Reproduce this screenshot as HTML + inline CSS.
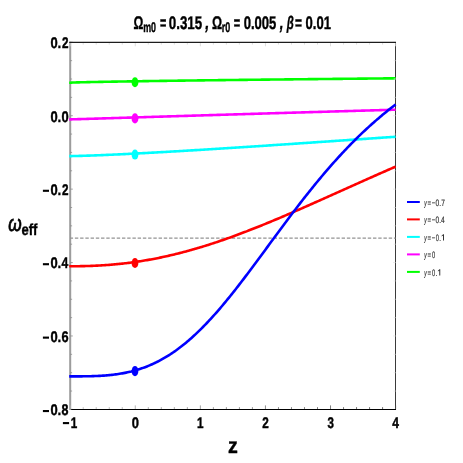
<!DOCTYPE html>
<html><head><meta charset="utf-8"><title>plot</title>
<style>
html,body{margin:0;padding:0;background:#fff;}
body{width:463px;height:463px;overflow:hidden;}
svg{display:block;will-change:transform;}
text{font-family:"Liberation Sans",sans-serif;text-rendering:geometricPrecision;}
</style></head><body>
<svg width="463" height="463" viewBox="0 0 463 463">
<rect x="0" y="0" width="463" height="463" fill="#ffffff"/>
<line x1="70.20" y1="41.65" x2="70.20" y2="410.00" stroke="#9c9c9c" stroke-width="2"/>
<line x1="395.50" y1="42.30" x2="395.50" y2="409.40" stroke="#3a3a3a" stroke-width="1.0"/>
<line x1="70.20" y1="238.09" x2="395.60" y2="238.09" stroke="#939393" stroke-width="1.1" stroke-dasharray="3.4 1.83" stroke-dashoffset="0.53"/>
<g fill="none" stroke-width="2.6" stroke-linecap="butt" stroke-linejoin="round">
<path d="M69.20 82.68 L70.20 82.68 L71.50 82.60 L72.80 82.55 L74.10 82.50 L75.41 82.46 L76.71 82.42 L78.01 82.38 L79.31 82.34 L80.61 82.31 L81.91 82.28 L83.22 82.25 L84.52 82.21 L85.82 82.18 L87.12 82.15 L88.42 82.12 L89.72 82.10 L91.03 82.07 L92.33 82.04 L93.63 82.01 L94.93 81.99 L96.23 81.96 L97.53 81.93 L98.84 81.91 L100.14 81.88 L101.44 81.86 L102.74 81.83 L104.04 81.81 L105.34 81.79 L106.64 81.76 L107.95 81.74 L109.25 81.72 L110.55 81.69 L111.85 81.67 L113.15 81.65 L114.45 81.62 L115.76 81.60 L117.06 81.58 L118.36 81.56 L119.66 81.54 L120.96 81.51 L122.26 81.49 L123.57 81.47 L124.87 81.45 L126.17 81.43 L127.47 81.41 L128.77 81.39 L130.07 81.37 L131.38 81.35 L132.68 81.33 L133.98 81.31 L135.28 81.29 L136.58 81.27 L137.88 81.25 L139.18 81.23 L140.49 81.21 L141.79 81.19 L143.09 81.17 L144.39 81.15 L145.69 81.13 L146.99 81.11 L148.30 81.09 L149.60 81.07 L150.90 81.05 L152.20 81.03 L153.50 81.01 L154.80 81.00 L156.11 80.98 L157.41 80.96 L158.71 80.94 L160.01 80.92 L161.31 80.90 L162.61 80.89 L163.92 80.87 L165.22 80.85 L166.52 80.83 L167.82 80.81 L169.12 80.80 L170.42 80.78 L171.72 80.76 L173.03 80.74 L174.33 80.73 L175.63 80.71 L176.93 80.69 L178.23 80.67 L179.53 80.66 L180.84 80.64 L182.14 80.62 L183.44 80.61 L184.74 80.59 L186.04 80.57 L187.34 80.56 L188.65 80.54 L189.95 80.52 L191.25 80.50 L192.55 80.49 L193.85 80.47 L195.15 80.46 L196.46 80.44 L197.76 80.42 L199.06 80.41 L200.36 80.39 L201.66 80.37 L202.96 80.36 L204.26 80.34 L205.57 80.32 L206.87 80.31 L208.17 80.29 L209.47 80.28 L210.77 80.26 L212.07 80.24 L213.38 80.23 L214.68 80.21 L215.98 80.20 L217.28 80.18 L218.58 80.17 L219.88 80.15 L221.19 80.13 L222.49 80.12 L223.79 80.10 L225.09 80.09 L226.39 80.07 L227.69 80.06 L229.00 80.04 L230.30 80.03 L231.60 80.01 L232.90 80.00 L234.20 79.98 L235.50 79.97 L236.80 79.95 L238.11 79.94 L239.41 79.92 L240.71 79.91 L242.01 79.89 L243.31 79.88 L244.61 79.86 L245.92 79.85 L247.22 79.83 L248.52 79.82 L249.82 79.80 L251.12 79.79 L252.42 79.77 L253.73 79.76 L255.03 79.74 L256.33 79.73 L257.63 79.71 L258.93 79.70 L260.23 79.68 L261.54 79.67 L262.84 79.66 L264.14 79.64 L265.44 79.63 L266.74 79.61 L268.04 79.60 L269.34 79.58 L270.65 79.57 L271.95 79.56 L273.25 79.54 L274.55 79.53 L275.85 79.51 L277.15 79.50 L278.46 79.49 L279.76 79.47 L281.06 79.46 L282.36 79.44 L283.66 79.43 L284.96 79.42 L286.27 79.40 L287.57 79.39 L288.87 79.37 L290.17 79.36 L291.47 79.35 L292.77 79.33 L294.08 79.32 L295.38 79.30 L296.68 79.29 L297.98 79.28 L299.28 79.26 L300.58 79.25 L301.88 79.24 L303.19 79.22 L304.49 79.21 L305.79 79.20 L307.09 79.18 L308.39 79.17 L309.69 79.16 L311.00 79.14 L312.30 79.13 L313.60 79.12 L314.90 79.10 L316.20 79.09 L317.50 79.08 L318.81 79.06 L320.11 79.05 L321.41 79.04 L322.71 79.02 L324.01 79.01 L325.31 79.00 L326.62 78.98 L327.92 78.97 L329.22 78.96 L330.52 78.94 L331.82 78.93 L333.12 78.92 L334.42 78.90 L335.73 78.89 L337.03 78.88 L338.33 78.87 L339.63 78.85 L340.93 78.84 L342.23 78.83 L343.54 78.81 L344.84 78.80 L346.14 78.79 L347.44 78.78 L348.74 78.76 L350.04 78.75 L351.35 78.74 L352.65 78.72 L353.95 78.71 L355.25 78.70 L356.55 78.69 L357.85 78.67 L359.16 78.66 L360.46 78.65 L361.76 78.64 L363.06 78.62 L364.36 78.61 L365.66 78.60 L366.96 78.59 L368.27 78.57 L369.57 78.56 L370.87 78.55 L372.17 78.54 L373.47 78.52 L374.77 78.51 L376.08 78.50 L377.38 78.49 L378.68 78.47 L379.98 78.46 L381.28 78.45 L382.58 78.44 L383.89 78.42 L385.19 78.41 L386.49 78.40 L387.79 78.39 L389.09 78.38 L390.39 78.36 L391.70 78.35 L393.00 78.34 L394.30 78.33 L395.60 78.31" stroke="#00ff00"/>
<path d="M69.20 119.39 L70.20 119.39 L71.50 119.36 L72.80 119.32 L74.10 119.28 L75.41 119.24 L76.71 119.20 L78.01 119.17 L79.31 119.13 L80.61 119.09 L81.91 119.05 L83.22 119.01 L84.52 118.97 L85.82 118.93 L87.12 118.89 L88.42 118.85 L89.72 118.81 L91.03 118.78 L92.33 118.74 L93.63 118.70 L94.93 118.66 L96.23 118.62 L97.53 118.58 L98.84 118.54 L100.14 118.50 L101.44 118.46 L102.74 118.42 L104.04 118.38 L105.34 118.34 L106.64 118.30 L107.95 118.26 L109.25 118.22 L110.55 118.18 L111.85 118.14 L113.15 118.10 L114.45 118.06 L115.76 118.02 L117.06 117.98 L118.36 117.94 L119.66 117.90 L120.96 117.86 L122.26 117.82 L123.57 117.78 L124.87 117.74 L126.17 117.70 L127.47 117.66 L128.77 117.62 L130.07 117.58 L131.38 117.54 L132.68 117.50 L133.98 117.46 L135.28 117.42 L136.58 117.38 L137.88 117.34 L139.18 117.30 L140.49 117.26 L141.79 117.22 L143.09 117.18 L144.39 117.14 L145.69 117.10 L146.99 117.06 L148.30 117.02 L149.60 116.98 L150.90 116.94 L152.20 116.90 L153.50 116.86 L154.80 116.82 L156.11 116.78 L157.41 116.74 L158.71 116.70 L160.01 116.66 L161.31 116.62 L162.61 116.58 L163.92 116.54 L165.22 116.50 L166.52 116.46 L167.82 116.42 L169.12 116.39 L170.42 116.35 L171.72 116.31 L173.03 116.27 L174.33 116.23 L175.63 116.19 L176.93 116.15 L178.23 116.11 L179.53 116.07 L180.84 116.03 L182.14 115.99 L183.44 115.95 L184.74 115.91 L186.04 115.87 L187.34 115.83 L188.65 115.79 L189.95 115.75 L191.25 115.71 L192.55 115.67 L193.85 115.63 L195.15 115.59 L196.46 115.55 L197.76 115.51 L199.06 115.47 L200.36 115.43 L201.66 115.39 L202.96 115.36 L204.26 115.32 L205.57 115.28 L206.87 115.24 L208.17 115.20 L209.47 115.16 L210.77 115.12 L212.07 115.08 L213.38 115.04 L214.68 115.00 L215.98 114.96 L217.28 114.92 L218.58 114.88 L219.88 114.84 L221.19 114.80 L222.49 114.76 L223.79 114.73 L225.09 114.69 L226.39 114.65 L227.69 114.61 L229.00 114.57 L230.30 114.53 L231.60 114.49 L232.90 114.45 L234.20 114.41 L235.50 114.37 L236.80 114.33 L238.11 114.30 L239.41 114.26 L240.71 114.22 L242.01 114.18 L243.31 114.14 L244.61 114.10 L245.92 114.06 L247.22 114.02 L248.52 113.98 L249.82 113.94 L251.12 113.91 L252.42 113.87 L253.73 113.83 L255.03 113.79 L256.33 113.75 L257.63 113.71 L258.93 113.67 L260.23 113.63 L261.54 113.60 L262.84 113.56 L264.14 113.52 L265.44 113.48 L266.74 113.44 L268.04 113.40 L269.34 113.36 L270.65 113.32 L271.95 113.29 L273.25 113.25 L274.55 113.21 L275.85 113.17 L277.15 113.13 L278.46 113.09 L279.76 113.05 L281.06 113.02 L282.36 112.98 L283.66 112.94 L284.96 112.90 L286.27 112.86 L287.57 112.82 L288.87 112.79 L290.17 112.75 L291.47 112.71 L292.77 112.67 L294.08 112.63 L295.38 112.59 L296.68 112.56 L297.98 112.52 L299.28 112.48 L300.58 112.44 L301.88 112.40 L303.19 112.36 L304.49 112.33 L305.79 112.29 L307.09 112.25 L308.39 112.21 L309.69 112.17 L311.00 112.14 L312.30 112.10 L313.60 112.06 L314.90 112.02 L316.20 111.98 L317.50 111.95 L318.81 111.91 L320.11 111.87 L321.41 111.83 L322.71 111.79 L324.01 111.76 L325.31 111.72 L326.62 111.68 L327.92 111.64 L329.22 111.60 L330.52 111.57 L331.82 111.53 L333.12 111.49 L334.42 111.45 L335.73 111.42 L337.03 111.38 L338.33 111.34 L339.63 111.30 L340.93 111.26 L342.23 111.23 L343.54 111.19 L344.84 111.15 L346.14 111.11 L347.44 111.08 L348.74 111.04 L350.04 111.00 L351.35 110.96 L352.65 110.93 L353.95 110.89 L355.25 110.85 L356.55 110.81 L357.85 110.78 L359.16 110.74 L360.46 110.70 L361.76 110.66 L363.06 110.63 L364.36 110.59 L365.66 110.55 L366.96 110.52 L368.27 110.48 L369.57 110.44 L370.87 110.40 L372.17 110.37 L373.47 110.33 L374.77 110.29 L376.08 110.26 L377.38 110.22 L378.68 110.18 L379.98 110.14 L381.28 110.11 L382.58 110.07 L383.89 110.03 L385.19 110.00 L386.49 109.96 L387.79 109.92 L389.09 109.88 L390.39 109.85 L391.70 109.81 L393.00 109.77 L394.30 109.74 L395.60 109.70" stroke="#ff00ff"/>
<path d="M69.20 156.10 L70.20 156.10 L71.50 156.09 L72.80 156.07 L74.10 156.04 L75.41 156.01 L76.71 155.98 L78.01 155.95 L79.31 155.91 L80.61 155.88 L81.91 155.84 L83.22 155.80 L84.52 155.76 L85.82 155.71 L87.12 155.67 L88.42 155.63 L89.72 155.58 L91.03 155.54 L92.33 155.49 L93.63 155.44 L94.93 155.39 L96.23 155.34 L97.53 155.29 L98.84 155.24 L100.14 155.19 L101.44 155.13 L102.74 155.08 L104.04 155.03 L105.34 154.97 L106.64 154.91 L107.95 154.86 L109.25 154.80 L110.55 154.74 L111.85 154.69 L113.15 154.63 L114.45 154.57 L115.76 154.51 L117.06 154.45 L118.36 154.39 L119.66 154.33 L120.96 154.27 L122.26 154.20 L123.57 154.14 L124.87 154.08 L126.17 154.01 L127.47 153.95 L128.77 153.89 L130.07 153.82 L131.38 153.76 L132.68 153.69 L133.98 153.62 L135.28 153.56 L136.58 153.49 L137.88 153.42 L139.18 153.36 L140.49 153.29 L141.79 153.22 L143.09 153.15 L144.39 153.08 L145.69 153.01 L146.99 152.94 L148.30 152.87 L149.60 152.80 L150.90 152.73 L152.20 152.66 L153.50 152.59 L154.80 152.52 L156.11 152.45 L157.41 152.38 L158.71 152.30 L160.01 152.23 L161.31 152.16 L162.61 152.08 L163.92 152.01 L165.22 151.94 L166.52 151.86 L167.82 151.79 L169.12 151.71 L170.42 151.64 L171.72 151.56 L173.03 151.49 L174.33 151.41 L175.63 151.34 L176.93 151.26 L178.23 151.19 L179.53 151.11 L180.84 151.03 L182.14 150.95 L183.44 150.88 L184.74 150.80 L186.04 150.72 L187.34 150.64 L188.65 150.57 L189.95 150.49 L191.25 150.41 L192.55 150.33 L193.85 150.25 L195.15 150.17 L196.46 150.09 L197.76 150.02 L199.06 149.94 L200.36 149.86 L201.66 149.78 L202.96 149.70 L204.26 149.62 L205.57 149.53 L206.87 149.45 L208.17 149.37 L209.47 149.29 L210.77 149.21 L212.07 149.13 L213.38 149.05 L214.68 148.97 L215.98 148.88 L217.28 148.80 L218.58 148.72 L219.88 148.64 L221.19 148.56 L222.49 148.47 L223.79 148.39 L225.09 148.31 L226.39 148.22 L227.69 148.14 L229.00 148.06 L230.30 147.98 L231.60 147.89 L232.90 147.81 L234.20 147.72 L235.50 147.64 L236.80 147.56 L238.11 147.47 L239.41 147.39 L240.71 147.30 L242.01 147.22 L243.31 147.13 L244.61 147.05 L245.92 146.96 L247.22 146.88 L248.52 146.79 L249.82 146.71 L251.12 146.62 L252.42 146.54 L253.73 146.45 L255.03 146.37 L256.33 146.28 L257.63 146.20 L258.93 146.11 L260.23 146.02 L261.54 145.94 L262.84 145.85 L264.14 145.76 L265.44 145.68 L266.74 145.59 L268.04 145.50 L269.34 145.42 L270.65 145.33 L271.95 145.24 L273.25 145.16 L274.55 145.07 L275.85 144.98 L277.15 144.90 L278.46 144.81 L279.76 144.72 L281.06 144.63 L282.36 144.55 L283.66 144.46 L284.96 144.37 L286.27 144.28 L287.57 144.20 L288.87 144.11 L290.17 144.02 L291.47 143.93 L292.77 143.84 L294.08 143.75 L295.38 143.67 L296.68 143.58 L297.98 143.49 L299.28 143.40 L300.58 143.31 L301.88 143.22 L303.19 143.14 L304.49 143.05 L305.79 142.96 L307.09 142.87 L308.39 142.78 L309.69 142.69 L311.00 142.60 L312.30 142.51 L313.60 142.42 L314.90 142.34 L316.20 142.25 L317.50 142.16 L318.81 142.07 L320.11 141.98 L321.41 141.89 L322.71 141.80 L324.01 141.71 L325.31 141.62 L326.62 141.53 L327.92 141.44 L329.22 141.35 L330.52 141.26 L331.82 141.17 L333.12 141.08 L334.42 140.99 L335.73 140.90 L337.03 140.81 L338.33 140.72 L339.63 140.63 L340.93 140.54 L342.23 140.45 L343.54 140.36 L344.84 140.27 L346.14 140.18 L347.44 140.09 L348.74 140.00 L350.04 139.91 L351.35 139.82 L352.65 139.73 L353.95 139.64 L355.25 139.55 L356.55 139.46 L357.85 139.37 L359.16 139.28 L360.46 139.19 L361.76 139.10 L363.06 139.01 L364.36 138.92 L365.66 138.83 L366.96 138.74 L368.27 138.65 L369.57 138.56 L370.87 138.47 L372.17 138.38 L373.47 138.29 L374.77 138.20 L376.08 138.11 L377.38 138.01 L378.68 137.92 L379.98 137.83 L381.28 137.74 L382.58 137.65 L383.89 137.56 L385.19 137.47 L386.49 137.38 L387.79 137.29 L389.09 137.20 L390.39 137.11 L391.70 137.02 L393.00 136.93 L394.30 136.84 L395.60 136.75" stroke="#00ffff"/>
<path d="M69.20 266.23 L70.20 266.23 L71.50 266.23 L72.80 266.23 L74.10 266.22 L75.41 266.22 L76.71 266.21 L78.01 266.19 L79.31 266.18 L80.61 266.16 L81.91 266.14 L83.22 266.11 L84.52 266.08 L85.82 266.05 L87.12 266.02 L88.42 265.98 L89.72 265.94 L91.03 265.89 L92.33 265.84 L93.63 265.79 L94.93 265.73 L96.23 265.67 L97.53 265.61 L98.84 265.54 L100.14 265.47 L101.44 265.39 L102.74 265.31 L104.04 265.23 L105.34 265.14 L106.64 265.05 L107.95 264.95 L109.25 264.85 L110.55 264.75 L111.85 264.64 L113.15 264.53 L114.45 264.41 L115.76 264.29 L117.06 264.16 L118.36 264.04 L119.66 263.90 L120.96 263.76 L122.26 263.62 L123.57 263.48 L124.87 263.33 L126.17 263.17 L127.47 263.01 L128.77 262.85 L130.07 262.68 L131.38 262.51 L132.68 262.33 L133.98 262.15 L135.28 261.97 L136.58 261.78 L137.88 261.58 L139.18 261.39 L140.49 261.18 L141.79 260.98 L143.09 260.77 L144.39 260.55 L145.69 260.33 L146.99 260.11 L148.30 259.88 L149.60 259.65 L150.90 259.41 L152.20 259.17 L153.50 258.92 L154.80 258.67 L156.11 258.42 L157.41 258.16 L158.71 257.90 L160.01 257.63 L161.31 257.36 L162.61 257.08 L163.92 256.80 L165.22 256.52 L166.52 256.23 L167.82 255.94 L169.12 255.64 L170.42 255.34 L171.72 255.03 L173.03 254.73 L174.33 254.41 L175.63 254.09 L176.93 253.77 L178.23 253.45 L179.53 253.12 L180.84 252.79 L182.14 252.45 L183.44 252.11 L184.74 251.76 L186.04 251.41 L187.34 251.06 L188.65 250.70 L189.95 250.34 L191.25 249.98 L192.55 249.61 L193.85 249.24 L195.15 248.86 L196.46 248.48 L197.76 248.10 L199.06 247.71 L200.36 247.32 L201.66 246.92 L202.96 246.53 L204.26 246.13 L205.57 245.72 L206.87 245.31 L208.17 244.90 L209.47 244.48 L210.77 244.07 L212.07 243.64 L213.38 243.22 L214.68 242.79 L215.98 242.36 L217.28 241.92 L218.58 241.48 L219.88 241.04 L221.19 240.60 L222.49 240.15 L223.79 239.70 L225.09 239.24 L226.39 238.79 L227.69 238.33 L229.00 237.86 L230.30 237.40 L231.60 236.93 L232.90 236.46 L234.20 235.98 L235.50 235.50 L236.80 235.02 L238.11 234.54 L239.41 234.06 L240.71 233.57 L242.01 233.08 L243.31 232.58 L244.61 232.09 L245.92 231.59 L247.22 231.09 L248.52 230.58 L249.82 230.08 L251.12 229.57 L252.42 229.06 L253.73 228.55 L255.03 228.03 L256.33 227.52 L257.63 227.00 L258.93 226.48 L260.23 225.95 L261.54 225.43 L262.84 224.90 L264.14 224.37 L265.44 223.84 L266.74 223.31 L268.04 222.77 L269.34 222.23 L270.65 221.69 L271.95 221.15 L273.25 220.61 L274.55 220.07 L275.85 219.52 L277.15 218.98 L278.46 218.43 L279.76 217.88 L281.06 217.32 L282.36 216.77 L283.66 216.22 L284.96 215.66 L286.27 215.10 L287.57 214.54 L288.87 213.98 L290.17 213.42 L291.47 212.86 L292.77 212.30 L294.08 211.73 L295.38 211.17 L296.68 210.60 L297.98 210.03 L299.28 209.46 L300.58 208.89 L301.88 208.32 L303.19 207.75 L304.49 207.17 L305.79 206.60 L307.09 206.03 L308.39 205.45 L309.69 204.88 L311.00 204.30 L312.30 203.72 L313.60 203.14 L314.90 202.56 L316.20 201.98 L317.50 201.41 L318.81 200.82 L320.11 200.24 L321.41 199.66 L322.71 199.08 L324.01 198.50 L325.31 197.92 L326.62 197.33 L327.92 196.75 L329.22 196.17 L330.52 195.58 L331.82 195.00 L333.12 194.42 L334.42 193.83 L335.73 193.25 L337.03 192.66 L338.33 192.08 L339.63 191.49 L340.93 190.91 L342.23 190.32 L343.54 189.74 L344.84 189.15 L346.14 188.57 L347.44 187.99 L348.74 187.40 L350.04 186.82 L351.35 186.23 L352.65 185.65 L353.95 185.07 L355.25 184.48 L356.55 183.90 L357.85 183.32 L359.16 182.74 L360.46 182.15 L361.76 181.57 L363.06 180.99 L364.36 180.41 L365.66 179.83 L366.96 179.25 L368.27 178.67 L369.57 178.09 L370.87 177.51 L372.17 176.94 L373.47 176.36 L374.77 175.78 L376.08 175.21 L377.38 174.63 L378.68 174.06 L379.98 173.48 L381.28 172.91 L382.58 172.34 L383.89 171.76 L385.19 171.19 L386.49 170.62 L387.79 170.05 L389.09 169.48 L390.39 168.92 L391.70 168.35 L393.00 167.78 L394.30 167.22 L395.60 166.65" stroke="#ff0000"/>
<path d="M69.20 376.36 L70.20 376.36 L71.50 376.36 L72.80 376.36 L74.10 376.36 L75.41 376.36 L76.71 376.36 L78.01 376.35 L79.31 376.35 L80.61 376.34 L81.91 376.33 L83.22 376.32 L84.52 376.31 L85.82 376.29 L87.12 376.27 L88.42 376.25 L89.72 376.22 L91.03 376.19 L92.33 376.15 L93.63 376.11 L94.93 376.07 L96.23 376.02 L97.53 375.96 L98.84 375.90 L100.14 375.83 L101.44 375.75 L102.74 375.67 L104.04 375.58 L105.34 375.48 L106.64 375.37 L107.95 375.26 L109.25 375.14 L110.55 375.00 L111.85 374.86 L113.15 374.71 L114.45 374.55 L115.76 374.38 L117.06 374.20 L118.36 374.01 L119.66 373.80 L120.96 373.59 L122.26 373.36 L123.57 373.12 L124.87 372.87 L126.17 372.61 L127.47 372.33 L128.77 372.04 L130.07 371.73 L131.38 371.42 L132.68 371.08 L133.98 370.74 L135.28 370.38 L136.58 370.00 L137.88 369.61 L139.18 369.20 L140.49 368.78 L141.79 368.34 L143.09 367.88 L144.39 367.41 L145.69 366.93 L146.99 366.42 L148.30 365.90 L149.60 365.36 L150.90 364.80 L152.20 364.23 L153.50 363.63 L154.80 363.02 L156.11 362.39 L157.41 361.75 L158.71 361.08 L160.01 360.39 L161.31 359.69 L162.61 358.97 L163.92 358.23 L165.22 357.47 L166.52 356.69 L167.82 355.89 L169.12 355.07 L170.42 354.23 L171.72 353.37 L173.03 352.50 L174.33 351.60 L175.63 350.69 L176.93 349.75 L178.23 348.80 L179.53 347.82 L180.84 346.83 L182.14 345.81 L183.44 344.78 L184.74 343.73 L186.04 342.66 L187.34 341.57 L188.65 340.46 L189.95 339.33 L191.25 338.18 L192.55 337.01 L193.85 335.83 L195.15 334.63 L196.46 333.41 L197.76 332.17 L199.06 330.91 L200.36 329.63 L201.66 328.34 L202.96 327.03 L204.26 325.70 L205.57 324.36 L206.87 323.00 L208.17 321.62 L209.47 320.23 L210.77 318.82 L212.07 317.39 L213.38 315.95 L214.68 314.50 L215.98 313.03 L217.28 311.54 L218.58 310.04 L219.88 308.53 L221.19 307.00 L222.49 305.47 L223.79 303.91 L225.09 302.35 L226.39 300.77 L227.69 299.18 L229.00 297.58 L230.30 295.97 L231.60 294.35 L232.90 292.72 L234.20 291.08 L235.50 289.43 L236.80 287.77 L238.11 286.10 L239.41 284.42 L240.71 282.73 L242.01 281.04 L243.31 279.34 L244.61 277.63 L245.92 275.91 L247.22 274.19 L248.52 272.47 L249.82 270.73 L251.12 269.00 L252.42 267.25 L253.73 265.51 L255.03 263.76 L256.33 262.00 L257.63 260.24 L258.93 258.48 L260.23 256.72 L261.54 254.96 L262.84 253.19 L264.14 251.42 L265.44 249.65 L266.74 247.88 L268.04 246.11 L269.34 244.34 L270.65 242.58 L271.95 240.81 L273.25 239.04 L274.55 237.27 L275.85 235.51 L277.15 233.74 L278.46 231.98 L279.76 230.22 L281.06 228.47 L282.36 226.72 L283.66 224.97 L284.96 223.22 L286.27 221.48 L287.57 219.74 L288.87 218.01 L290.17 216.28 L291.47 214.56 L292.77 212.84 L294.08 211.13 L295.38 209.42 L296.68 207.72 L297.98 206.03 L299.28 204.34 L300.58 202.66 L301.88 200.98 L303.19 199.31 L304.49 197.65 L305.79 196.00 L307.09 194.35 L308.39 192.71 L309.69 191.08 L311.00 189.46 L312.30 187.84 L313.60 186.24 L314.90 184.64 L316.20 183.05 L317.50 181.47 L318.81 179.89 L320.11 178.33 L321.41 176.78 L322.71 175.23 L324.01 173.69 L325.31 172.17 L326.62 170.65 L327.92 169.14 L329.22 167.64 L330.52 166.15 L331.82 164.67 L333.12 163.20 L334.42 161.74 L335.73 160.29 L337.03 158.85 L338.33 157.42 L339.63 156.00 L340.93 154.59 L342.23 153.19 L343.54 151.80 L344.84 150.43 L346.14 149.06 L347.44 147.70 L348.74 146.35 L350.04 145.01 L351.35 143.68 L352.65 142.36 L353.95 141.05 L355.25 139.76 L356.55 138.47 L357.85 137.19 L359.16 135.92 L360.46 134.67 L361.76 133.42 L363.06 132.18 L364.36 130.96 L365.66 129.74 L366.96 128.54 L368.27 127.34 L369.57 126.16 L370.87 124.98 L372.17 123.81 L373.47 122.66 L374.77 121.51 L376.08 120.38 L377.38 119.25 L378.68 118.14 L379.98 117.03 L381.28 115.93 L382.58 114.85 L383.89 113.77 L385.19 112.70 L386.49 111.64 L387.79 110.60 L389.09 109.56 L390.39 108.53 L391.70 107.51 L393.00 106.50 L394.30 105.50 L395.60 104.50" stroke="#0000ff"/>
</g>
<ellipse cx="134.98" cy="82.29" rx="3.4" ry="5.05" fill="#00ff00"/>
<ellipse cx="134.98" cy="118.42" rx="3.4" ry="5.05" fill="#ff00ff"/>
<ellipse cx="134.98" cy="154.56" rx="3.4" ry="5.05" fill="#00ffff"/>
<ellipse cx="134.98" cy="262.97" rx="3.4" ry="5.05" fill="#ff0000"/>
<ellipse cx="134.98" cy="371.08" rx="3.4" ry="5.05" fill="#0000ff"/>
<line x1="70.20" y1="409.40" x2="70.20" y2="405.40" stroke="rgb(185,185,185)" stroke-width="0.8"/>
<line x1="70.20" y1="42.30" x2="70.20" y2="46.30" stroke="#d4d4d4" stroke-width="0.8"/>
<line x1="83.22" y1="409.40" x2="83.22" y2="407.10" stroke="rgb(180,180,180)" stroke-width="0.8"/>
<line x1="83.22" y1="42.30" x2="83.22" y2="44.60" stroke="#d4d4d4" stroke-width="0.8"/>
<line x1="96.23" y1="409.40" x2="96.23" y2="407.10" stroke="rgb(175,175,175)" stroke-width="0.8"/>
<line x1="96.23" y1="42.30" x2="96.23" y2="44.60" stroke="#d4d4d4" stroke-width="0.8"/>
<line x1="109.25" y1="409.40" x2="109.25" y2="407.10" stroke="rgb(171,171,171)" stroke-width="0.8"/>
<line x1="109.25" y1="42.30" x2="109.25" y2="44.60" stroke="#d4d4d4" stroke-width="0.8"/>
<line x1="122.26" y1="409.40" x2="122.26" y2="407.10" stroke="rgb(166,166,166)" stroke-width="0.8"/>
<line x1="122.26" y1="42.30" x2="122.26" y2="44.60" stroke="#d4d4d4" stroke-width="0.8"/>
<line x1="135.28" y1="409.40" x2="135.28" y2="405.40" stroke="rgb(162,162,162)" stroke-width="0.8"/>
<line x1="135.28" y1="42.30" x2="135.28" y2="46.30" stroke="#d4d4d4" stroke-width="0.8"/>
<line x1="148.30" y1="409.40" x2="148.30" y2="407.10" stroke="rgb(157,157,157)" stroke-width="0.8"/>
<line x1="148.30" y1="42.30" x2="148.30" y2="44.60" stroke="#d4d4d4" stroke-width="0.8"/>
<line x1="161.31" y1="409.40" x2="161.31" y2="407.10" stroke="rgb(152,152,152)" stroke-width="0.8"/>
<line x1="161.31" y1="42.30" x2="161.31" y2="44.60" stroke="#d4d4d4" stroke-width="0.8"/>
<line x1="174.33" y1="409.40" x2="174.33" y2="407.10" stroke="rgb(148,148,148)" stroke-width="0.8"/>
<line x1="174.33" y1="42.30" x2="174.33" y2="44.60" stroke="#d4d4d4" stroke-width="0.8"/>
<line x1="187.34" y1="409.40" x2="187.34" y2="407.10" stroke="rgb(143,143,143)" stroke-width="0.8"/>
<line x1="187.34" y1="42.30" x2="187.34" y2="44.60" stroke="#d4d4d4" stroke-width="0.8"/>
<line x1="200.36" y1="409.40" x2="200.36" y2="405.40" stroke="rgb(139,139,139)" stroke-width="0.8"/>
<line x1="200.36" y1="42.30" x2="200.36" y2="46.30" stroke="#d4d4d4" stroke-width="0.8"/>
<line x1="213.38" y1="409.40" x2="213.38" y2="407.10" stroke="rgb(134,134,134)" stroke-width="0.8"/>
<line x1="213.38" y1="42.30" x2="213.38" y2="44.60" stroke="#d4d4d4" stroke-width="0.8"/>
<line x1="226.39" y1="409.40" x2="226.39" y2="407.10" stroke="rgb(129,129,129)" stroke-width="0.8"/>
<line x1="226.39" y1="42.30" x2="226.39" y2="44.60" stroke="#d4d4d4" stroke-width="0.8"/>
<line x1="239.41" y1="409.40" x2="239.41" y2="407.10" stroke="rgb(125,125,125)" stroke-width="0.8"/>
<line x1="239.41" y1="42.30" x2="239.41" y2="44.60" stroke="#d4d4d4" stroke-width="0.8"/>
<line x1="252.42" y1="409.40" x2="252.42" y2="407.10" stroke="rgb(120,120,120)" stroke-width="0.8"/>
<line x1="252.42" y1="42.30" x2="252.42" y2="44.60" stroke="#d4d4d4" stroke-width="0.8"/>
<line x1="265.44" y1="409.40" x2="265.44" y2="405.40" stroke="rgb(116,116,116)" stroke-width="0.8"/>
<line x1="265.44" y1="42.30" x2="265.44" y2="46.30" stroke="#d4d4d4" stroke-width="0.8"/>
<line x1="278.46" y1="409.40" x2="278.46" y2="407.10" stroke="rgb(111,111,111)" stroke-width="0.8"/>
<line x1="278.46" y1="42.30" x2="278.46" y2="44.60" stroke="#d4d4d4" stroke-width="0.8"/>
<line x1="291.47" y1="409.40" x2="291.47" y2="407.10" stroke="rgb(106,106,106)" stroke-width="0.8"/>
<line x1="291.47" y1="42.30" x2="291.47" y2="44.60" stroke="#d4d4d4" stroke-width="0.8"/>
<line x1="304.49" y1="409.40" x2="304.49" y2="407.10" stroke="rgb(102,102,102)" stroke-width="0.8"/>
<line x1="304.49" y1="42.30" x2="304.49" y2="44.60" stroke="#d4d4d4" stroke-width="0.8"/>
<line x1="317.50" y1="409.40" x2="317.50" y2="407.10" stroke="rgb(97,97,97)" stroke-width="0.8"/>
<line x1="317.50" y1="42.30" x2="317.50" y2="44.60" stroke="#d4d4d4" stroke-width="0.8"/>
<line x1="330.52" y1="409.40" x2="330.52" y2="405.40" stroke="rgb(93,93,93)" stroke-width="0.8"/>
<line x1="330.52" y1="42.30" x2="330.52" y2="46.30" stroke="#d4d4d4" stroke-width="0.8"/>
<line x1="343.54" y1="409.40" x2="343.54" y2="407.10" stroke="rgb(88,88,88)" stroke-width="0.8"/>
<line x1="343.54" y1="42.30" x2="343.54" y2="44.60" stroke="#d4d4d4" stroke-width="0.8"/>
<line x1="356.55" y1="409.40" x2="356.55" y2="407.10" stroke="rgb(83,83,83)" stroke-width="0.8"/>
<line x1="356.55" y1="42.30" x2="356.55" y2="44.60" stroke="#d4d4d4" stroke-width="0.8"/>
<line x1="369.57" y1="409.40" x2="369.57" y2="407.10" stroke="rgb(79,79,79)" stroke-width="0.8"/>
<line x1="369.57" y1="42.30" x2="369.57" y2="44.60" stroke="#d4d4d4" stroke-width="0.8"/>
<line x1="382.58" y1="409.40" x2="382.58" y2="407.10" stroke="rgb(74,74,74)" stroke-width="0.8"/>
<line x1="382.58" y1="42.30" x2="382.58" y2="44.60" stroke="#d4d4d4" stroke-width="0.8"/>
<line x1="395.60" y1="409.40" x2="395.60" y2="405.40" stroke="rgb(70,70,70)" stroke-width="0.8"/>
<line x1="395.60" y1="42.30" x2="395.60" y2="46.30" stroke="#d4d4d4" stroke-width="0.8"/>
<line x1="70.20" y1="42.30" x2="72.80" y2="42.30" stroke="#8c8c8c" stroke-width="0.8"/>
<line x1="395.60" y1="42.30" x2="393.00" y2="42.30" stroke="#e4e4e4" stroke-width="0.8"/>
<line x1="70.20" y1="60.65" x2="72.10" y2="60.65" stroke="#8c8c8c" stroke-width="0.8"/>
<line x1="395.60" y1="60.65" x2="393.70" y2="60.65" stroke="#e4e4e4" stroke-width="0.8"/>
<line x1="70.20" y1="79.01" x2="72.10" y2="79.01" stroke="#8c8c8c" stroke-width="0.8"/>
<line x1="395.60" y1="79.01" x2="393.70" y2="79.01" stroke="#e4e4e4" stroke-width="0.8"/>
<line x1="70.20" y1="97.37" x2="72.10" y2="97.37" stroke="#8c8c8c" stroke-width="0.8"/>
<line x1="395.60" y1="97.37" x2="393.70" y2="97.37" stroke="#e4e4e4" stroke-width="0.8"/>
<line x1="70.20" y1="115.72" x2="72.80" y2="115.72" stroke="#8c8c8c" stroke-width="0.8"/>
<line x1="395.60" y1="115.72" x2="393.00" y2="115.72" stroke="#e4e4e4" stroke-width="0.8"/>
<line x1="70.20" y1="134.07" x2="72.10" y2="134.07" stroke="#8c8c8c" stroke-width="0.8"/>
<line x1="395.60" y1="134.07" x2="393.70" y2="134.07" stroke="#e4e4e4" stroke-width="0.8"/>
<line x1="70.20" y1="152.43" x2="72.10" y2="152.43" stroke="#8c8c8c" stroke-width="0.8"/>
<line x1="395.60" y1="152.43" x2="393.70" y2="152.43" stroke="#e4e4e4" stroke-width="0.8"/>
<line x1="70.20" y1="170.79" x2="72.10" y2="170.79" stroke="#8c8c8c" stroke-width="0.8"/>
<line x1="395.60" y1="170.79" x2="393.70" y2="170.79" stroke="#e4e4e4" stroke-width="0.8"/>
<line x1="70.20" y1="189.14" x2="72.80" y2="189.14" stroke="#8c8c8c" stroke-width="0.8"/>
<line x1="395.60" y1="189.14" x2="393.00" y2="189.14" stroke="#e4e4e4" stroke-width="0.8"/>
<line x1="70.20" y1="207.50" x2="72.10" y2="207.50" stroke="#8c8c8c" stroke-width="0.8"/>
<line x1="395.60" y1="207.50" x2="393.70" y2="207.50" stroke="#e4e4e4" stroke-width="0.8"/>
<line x1="70.20" y1="225.85" x2="72.10" y2="225.85" stroke="#8c8c8c" stroke-width="0.8"/>
<line x1="395.60" y1="225.85" x2="393.70" y2="225.85" stroke="#e4e4e4" stroke-width="0.8"/>
<line x1="70.20" y1="244.20" x2="72.10" y2="244.20" stroke="#8c8c8c" stroke-width="0.8"/>
<line x1="395.60" y1="244.20" x2="393.70" y2="244.20" stroke="#e4e4e4" stroke-width="0.8"/>
<line x1="70.20" y1="262.56" x2="72.80" y2="262.56" stroke="#8c8c8c" stroke-width="0.8"/>
<line x1="395.60" y1="262.56" x2="393.00" y2="262.56" stroke="#e4e4e4" stroke-width="0.8"/>
<line x1="70.20" y1="280.91" x2="72.10" y2="280.91" stroke="#8c8c8c" stroke-width="0.8"/>
<line x1="395.60" y1="280.91" x2="393.70" y2="280.91" stroke="#e4e4e4" stroke-width="0.8"/>
<line x1="70.20" y1="299.27" x2="72.10" y2="299.27" stroke="#8c8c8c" stroke-width="0.8"/>
<line x1="395.60" y1="299.27" x2="393.70" y2="299.27" stroke="#e4e4e4" stroke-width="0.8"/>
<line x1="70.20" y1="317.62" x2="72.10" y2="317.62" stroke="#8c8c8c" stroke-width="0.8"/>
<line x1="395.60" y1="317.62" x2="393.70" y2="317.62" stroke="#e4e4e4" stroke-width="0.8"/>
<line x1="70.20" y1="335.98" x2="72.80" y2="335.98" stroke="#8c8c8c" stroke-width="0.8"/>
<line x1="395.60" y1="335.98" x2="393.00" y2="335.98" stroke="#e4e4e4" stroke-width="0.8"/>
<line x1="70.20" y1="354.34" x2="72.10" y2="354.34" stroke="#8c8c8c" stroke-width="0.8"/>
<line x1="395.60" y1="354.34" x2="393.70" y2="354.34" stroke="#e4e4e4" stroke-width="0.8"/>
<line x1="70.20" y1="372.69" x2="72.10" y2="372.69" stroke="#8c8c8c" stroke-width="0.8"/>
<line x1="395.60" y1="372.69" x2="393.70" y2="372.69" stroke="#e4e4e4" stroke-width="0.8"/>
<line x1="70.20" y1="391.04" x2="72.10" y2="391.04" stroke="#8c8c8c" stroke-width="0.8"/>
<line x1="395.60" y1="391.04" x2="393.70" y2="391.04" stroke="#e4e4e4" stroke-width="0.8"/>
<line x1="70.20" y1="409.40" x2="72.80" y2="409.40" stroke="#8c8c8c" stroke-width="0.8"/>
<line x1="395.60" y1="409.40" x2="393.00" y2="409.40" stroke="#e4e4e4" stroke-width="0.8"/>
<line x1="69.20" y1="42.30" x2="396.00" y2="42.30" stroke="#1c1c1c" stroke-width="1.15"/>
<line x1="71.20" y1="409.45" x2="396.00" y2="409.45" stroke="#000" stroke-width="1.1"/>
<text font-size="15.40" fill="#000" font-weight="bold" stroke="#000" stroke-width="0.45" transform="translate(50.41 48.15) scale(0.8397 1)">0</text>
<text font-size="15.40" fill="#000" font-weight="bold" stroke="#000" stroke-width="0.30" transform="translate(57.44 48.15) scale(0.8743 1)">.</text>
<text font-size="15.40" fill="#000" font-weight="bold" stroke="#000" stroke-width="0.45" transform="translate(62.02 48.15) scale(0.7620 1)">2</text>
<text font-size="15.40" fill="#000" font-weight="bold" stroke="#000" stroke-width="0.45" transform="translate(50.41 121.57) scale(0.8397 1)">0</text>
<text font-size="15.40" fill="#000" font-weight="bold" stroke="#000" stroke-width="0.30" transform="translate(57.44 121.57) scale(0.8743 1)">.</text>
<text font-size="15.40" fill="#000" font-weight="bold" stroke="#000" stroke-width="0.45" transform="translate(61.41 121.57) scale(0.8397 1)">0</text>
<text font-size="15.40" fill="#000" font-weight="bold" stroke="#000" stroke-width="0.45" transform="translate(50.41 194.99) scale(0.8397 1)">0</text>
<text font-size="15.40" fill="#000" font-weight="bold" stroke="#000" stroke-width="0.30" transform="translate(57.44 194.99) scale(0.8743 1)">.</text>
<text font-size="15.40" fill="#000" font-weight="bold" stroke="#000" stroke-width="0.45" transform="translate(62.02 194.99) scale(0.7620 1)">2</text>
<rect x="42.9" y="189.74" width="6.1" height="2.1" fill="#000"/>
<text font-size="15.40" fill="#000" font-weight="bold" stroke="#000" stroke-width="0.45" transform="translate(50.41 268.41) scale(0.8397 1)">0</text>
<text font-size="15.40" fill="#000" font-weight="bold" stroke="#000" stroke-width="0.30" transform="translate(57.44 268.41) scale(0.8743 1)">.</text>
<text font-size="15.40" fill="#000" font-weight="bold" stroke="#000" stroke-width="0.45" transform="translate(61.44 268.41) scale(0.7819 1)">4</text>
<rect x="42.9" y="263.16" width="6.1" height="2.1" fill="#000"/>
<text font-size="15.40" fill="#000" font-weight="bold" stroke="#000" stroke-width="0.45" transform="translate(50.41 341.83) scale(0.8397 1)">0</text>
<text font-size="15.40" fill="#000" font-weight="bold" stroke="#000" stroke-width="0.30" transform="translate(57.44 341.83) scale(0.8743 1)">.</text>
<text font-size="15.40" fill="#000" font-weight="bold" stroke="#000" stroke-width="0.45" transform="translate(61.46 341.83) scale(0.8261 1)">6</text>
<rect x="42.9" y="336.58" width="6.1" height="2.1" fill="#000"/>
<text font-size="15.40" fill="#000" font-weight="bold" stroke="#000" stroke-width="0.45" transform="translate(50.41 415.25) scale(0.8397 1)">0</text>
<text font-size="15.40" fill="#000" font-weight="bold" stroke="#000" stroke-width="0.30" transform="translate(57.44 415.25) scale(0.8743 1)">.</text>
<text font-size="15.40" fill="#000" font-weight="bold" stroke="#000" stroke-width="0.45" transform="translate(61.53 415.25) scale(0.8090 1)">8</text>
<rect x="42.9" y="410.00" width="6.1" height="2.1" fill="#000"/>
<text font-size="15.40" fill="#000" font-weight="bold" stroke="#000" stroke-width="0.45" transform="translate(70.69 427.80) scale(0.7605 1)">1</text>
<rect x="62.9" y="422.05" width="6.2" height="2.1" fill="#000"/>
<text font-size="15.40" fill="#000" font-weight="bold" stroke="#000" stroke-width="0.45" transform="translate(131.69 427.80) scale(0.8397 1)">0</text>
<text font-size="15.40" fill="#000" font-weight="bold" stroke="#000" stroke-width="0.45" transform="translate(196.90 427.80) scale(0.7605 1)">1</text>
<text font-size="15.40" fill="#000" font-weight="bold" stroke="#000" stroke-width="0.45" transform="translate(262.21 427.80) scale(0.7620 1)">2</text>
<text font-size="15.40" fill="#000" font-weight="bold" stroke="#000" stroke-width="0.45" transform="translate(327.38 427.80) scale(0.7512 1)">3</text>
<text font-size="15.40" fill="#000" font-weight="bold" stroke="#000" stroke-width="0.45" transform="translate(392.19 427.80) scale(0.7819 1)">4</text>
<text font-size="22.00" fill="#000" font-weight="bold" stroke="#000" stroke-width="0.40" transform="translate(227.92 452.60) scale(0.8902 1)">z</text>
<text font-size="22.60" fill="#000" font-style="italic" stroke="#000" stroke-width="0.80" transform="translate(8.24 230.70) scale(0.7619 1)">ω</text>
<text font-size="16.00" fill="#000" font-weight="bold" stroke="#000" stroke-width="0.40" transform="translate(21.49 235.00) scale(0.8122 1)">eff</text>
<text font-size="18.30" fill="#000" font-weight="bold" stroke="#000" stroke-width="0.40" transform="translate(133.60 28.60) scale(0.6748 1)">Ω</text>
<text font-size="14.00" fill="#000" font-weight="bold" stroke="#000" stroke-width="0.40" transform="translate(143.21 32.40) scale(0.6351 1)">m0</text>
<text font-size="18.30" fill="#000" font-weight="bold" stroke="#000" stroke-width="0.40" transform="translate(159.95 29.10) scale(0.5884 1)">=</text>
<text font-size="18.30" fill="#000" font-weight="bold" stroke="#000" stroke-width="0.40" transform="translate(168.77 28.60) scale(0.7293 1)">0.315</text>
<text font-size="20.50" fill="#000" font-weight="bold" font-style="italic" stroke="#000" stroke-width="0.40" transform="translate(205.24 28.60) scale(0.6998 1)">,</text>
<text font-size="18.30" fill="#000" font-weight="bold" stroke="#000" stroke-width="0.40" transform="translate(211.99 28.60) scale(0.6900 1)">Ω</text>
<text font-size="14.00" fill="#000" font-weight="bold" stroke="#000" stroke-width="0.40" transform="translate(221.81 32.40) scale(0.6390 1)">r0</text>
<text font-size="18.30" fill="#000" font-weight="bold" stroke="#000" stroke-width="0.40" transform="translate(233.84 29.10) scale(0.5993 1)">=</text>
<text font-size="18.30" fill="#000" font-weight="bold" stroke="#000" stroke-width="0.40" transform="translate(243.68 28.60) scale(0.7136 1)">0.005</text>
<text font-size="20.50" fill="#000" font-weight="bold" font-style="italic" stroke="#000" stroke-width="0.40" transform="translate(279.63 28.60) scale(0.6515 1)">,</text>
<text font-size="18.30" fill="#000" font-weight="bold" font-style="italic" stroke="#000" stroke-width="0.40" transform="translate(286.64 28.60) scale(0.6192 1)">β</text>
<text font-size="18.30" fill="#000" font-weight="bold" stroke="#000" stroke-width="0.40" transform="translate(295.00 29.10) scale(0.6538 1)">=</text>
<text font-size="18.30" fill="#000" font-weight="bold" stroke="#000" stroke-width="0.40" transform="translate(305.58 28.60) scale(0.7125 1)">0.01</text>
<line x1="407" y1="202.0" x2="419.8" y2="202.0" stroke="#0000ff" stroke-width="2"/>
<text font-size="9.20" fill="#2a2a2a" font-style="italic" stroke="#2a2a2a" stroke-width="0.15" transform="translate(424.15 205.70) scale(0.5283 1)">y</text>
<text font-size="9.20" fill="#1a1a1a" stroke="#1a1a1a" stroke-width="0.10" transform="translate(427.45 206.00) scale(0.6712 1)">=</text>
<text font-size="9.20" fill="#2a2a2a" stroke="#2a2a2a" stroke-width="0.15" transform="translate(431.79 205.70) scale(0.6376 1)">−</text>
<text font-size="9.20" fill="#2a2a2a" stroke="#2a2a2a" stroke-width="0.15" transform="translate(435.62 205.70) scale(0.7228 1)">0.7</text>
<line x1="407" y1="219.4" x2="419.8" y2="219.4" stroke="#ff0000" stroke-width="2"/>
<text font-size="9.20" fill="#2a2a2a" font-style="italic" stroke="#2a2a2a" stroke-width="0.15" transform="translate(424.15 223.10) scale(0.5283 1)">y</text>
<text font-size="9.20" fill="#1a1a1a" stroke="#1a1a1a" stroke-width="0.10" transform="translate(427.45 223.40) scale(0.6712 1)">=</text>
<text font-size="9.20" fill="#2a2a2a" stroke="#2a2a2a" stroke-width="0.15" transform="translate(431.79 223.10) scale(0.6376 1)">−</text>
<text font-size="9.20" fill="#2a2a2a" stroke="#2a2a2a" stroke-width="0.15" transform="translate(435.62 223.10) scale(0.7113 1)">0.4</text>
<line x1="407" y1="236.9" x2="419.8" y2="236.9" stroke="#00ffff" stroke-width="2"/>
<text font-size="9.20" fill="#2a2a2a" font-style="italic" stroke="#2a2a2a" stroke-width="0.15" transform="translate(424.15 240.60) scale(0.5283 1)">y</text>
<text font-size="9.20" fill="#1a1a1a" stroke="#1a1a1a" stroke-width="0.10" transform="translate(427.45 240.90) scale(0.6712 1)">=</text>
<text font-size="9.20" fill="#2a2a2a" stroke="#2a2a2a" stroke-width="0.15" transform="translate(431.79 240.60) scale(0.6376 1)">−</text>
<text font-size="9.20" fill="#2a2a2a" stroke="#2a2a2a" stroke-width="0.15" transform="translate(435.65 240.60) scale(0.6253 1)">0</text>
<text font-size="9.20" fill="#2a2a2a" stroke="#2a2a2a" stroke-width="0.15" transform="translate(439.15 240.60) scale(0.6849 1)">.</text>
<path d="M443.00 240.60 L443.95 240.60 L443.95 234.16 L443.20 234.16 L441.60 235.71 L441.60 236.56 L443.00 235.46 Z" fill="#2a2a2a"/>
<line x1="407" y1="254.4" x2="419.8" y2="254.4" stroke="#ff00ff" stroke-width="2"/>
<text font-size="9.20" fill="#2a2a2a" font-style="italic" stroke="#2a2a2a" stroke-width="0.15" transform="translate(424.15 258.10) scale(0.5283 1)">y</text>
<text font-size="9.20" fill="#1a1a1a" stroke="#1a1a1a" stroke-width="0.10" transform="translate(427.45 258.40) scale(0.6712 1)">=</text>
<text font-size="9.20" fill="#2a2a2a" stroke="#2a2a2a" stroke-width="0.15" transform="translate(431.95 258.10) scale(0.6253 1)">0</text>
<line x1="407" y1="271.9" x2="419.8" y2="271.9" stroke="#00ff00" stroke-width="2"/>
<text font-size="9.20" fill="#2a2a2a" font-style="italic" stroke="#2a2a2a" stroke-width="0.15" transform="translate(424.15 275.60) scale(0.5283 1)">y</text>
<text font-size="9.20" fill="#1a1a1a" stroke="#1a1a1a" stroke-width="0.10" transform="translate(427.45 275.90) scale(0.6712 1)">=</text>
<text font-size="9.20" fill="#2a2a2a" stroke="#2a2a2a" stroke-width="0.15" transform="translate(431.95 275.60) scale(0.6253 1)">0</text>
<text font-size="9.20" fill="#2a2a2a" stroke="#2a2a2a" stroke-width="0.15" transform="translate(435.45 275.60) scale(0.6849 1)">.</text>
<path d="M439.30 275.60 L440.25 275.60 L440.25 269.16 L439.50 269.16 L437.90 270.71 L437.90 271.56 L439.30 270.46 Z" fill="#2a2a2a"/>
</svg>
</body></html>
